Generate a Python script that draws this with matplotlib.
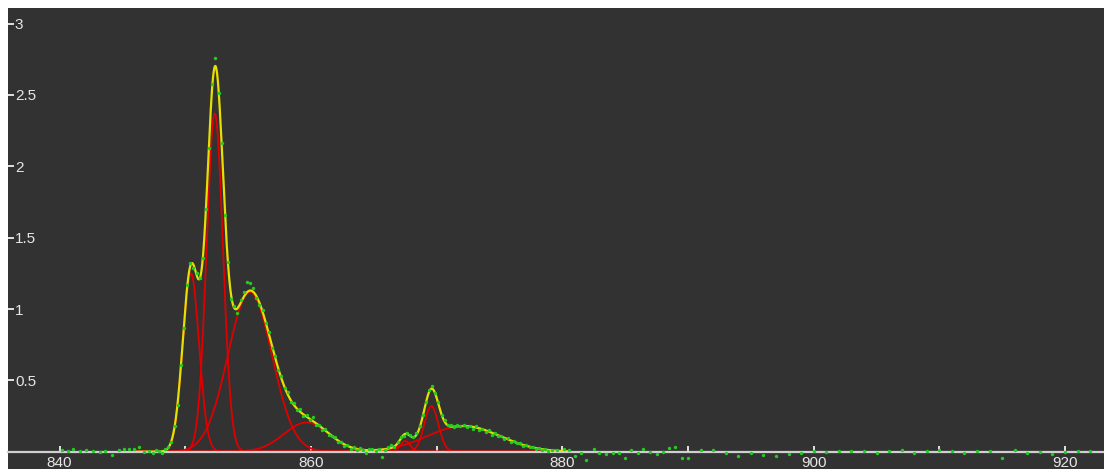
import numpy as np
import matplotlib.pyplot as plt

# fitted peak components (center nm, height, gaussian sigma nm)
peak_center = [850.45, 852.35, 855.15, 859.65, 867.50, 869.58, 872.15]
peak_height = [1.25, 2.37, 1.12, 0.205, 0.075, 0.32, 0.18]
peak_sigma = [0.65, 0.65, 1.75, 1.80, 0.40, 0.56, 2.90]
fit_range = (846.0, 880.5)

# measured spectrum points (green)
wl_left = [840.2, 840.7, 841.1, 841.6, 842.1, 842.7, 843.2, 843.6, 844.2, 844.7,
           845.1, 845.5, 845.9, 846.3, 846.7]
int_left = [0.012, 0.005, 0.018, 0.004, 0.010, 0.006, -0.004, 0.008, -0.020, 0.010,
            0.018, 0.020, 0.020, 0.030, -0.005]

wl_peak = [847.15, 847.40, 847.65, 847.90, 848.15, 848.40, 848.65, 848.90,
           849.15, 849.40, 849.65, 849.90, 850.15, 850.40, 850.65, 850.90,
           851.15, 851.40, 851.65, 851.90, 852.15, 852.40, 852.65, 852.90,
           853.15, 853.40, 853.65, 853.90, 854.15, 854.40, 854.65, 854.90,
           855.15, 855.40, 855.65, 855.90, 856.15, 856.40, 856.65, 856.90,
           857.15, 857.40, 857.65, 857.90, 858.15, 858.40, 858.65, 858.90,
           859.15, 859.40, 859.65, 859.90, 860.15, 860.40, 860.65, 860.90,
           861.15, 861.40, 861.65, 861.90, 862.15, 862.40, 862.65, 862.90,
           863.15, 863.40, 863.65, 863.90, 864.15, 864.40, 864.65, 864.90,
           865.15, 865.40, 865.65, 865.90, 866.15, 866.40, 866.65, 866.90,
           867.15, 867.40, 867.65, 867.90, 868.15, 868.40, 868.65, 868.90,
           869.15, 869.40, 869.65, 869.90, 870.15, 870.40, 870.65, 870.90,
           871.15, 871.40, 871.65, 871.90, 872.15, 872.40, 872.65, 872.90,
           873.15, 873.40, 873.65, 873.90, 874.15, 874.40, 874.65, 874.90,
           875.15, 875.40, 875.65, 875.90, 876.15, 876.40, 876.65, 876.90,
           877.15, 877.40, 877.65, 877.90, 878.15, 878.40, 878.65, 878.90,
           879.15]
int_peak = [0.005, -0.008, 0.012, 0.004, -0.006, 0.018, 0.035, 0.070,
            0.180, 0.330, 0.610, 0.870, 1.170, 1.320, 1.290, 1.250,
            1.220, 1.360, 1.700, 2.130, 2.580, 2.760, 2.510, 2.160,
            1.660, 1.330, 1.070, 1.020, 0.970, 1.060, 1.120, 1.190,
            1.180, 1.150, 1.080, 1.030, 0.990, 0.900, 0.840, 0.730,
            0.670, 0.570, 0.530, 0.450, 0.420, 0.350, 0.340, 0.290,
            0.300, 0.250, 0.260, 0.220, 0.240, 0.190, 0.190, 0.150,
            0.160, 0.120, 0.110, 0.100, 0.065, 0.070, 0.040, 0.050,
            0.020, 0.030, 0.012, 0.025, 0.015, -0.012, 0.020, 0.018,
            0.005, 0.020, -0.035, 0.010, 0.030, 0.050, 0.030, 0.070,
            0.100, 0.110, 0.130, 0.120, 0.100, 0.130, 0.180, 0.260,
            0.350, 0.430, 0.460, 0.410, 0.350, 0.260, 0.220, 0.190,
            0.190, 0.170, 0.190, 0.180, 0.190, 0.170, 0.180, 0.160,
            0.180, 0.150, 0.160, 0.140, 0.150, 0.120, 0.130, 0.110,
            0.110, 0.090, 0.095, 0.070, 0.075, 0.060, 0.060, 0.040,
            0.045, 0.030, 0.035, 0.020, 0.025, 0.012, 0.020, 0.005,
            0.012]

wl_right = [879.6, 880.1, 880.5, 881.0, 881.5, 881.9, 882.5, 882.9, 883.5, 884.0,
            884.5, 885.0, 885.5, 886.0, 886.4, 887.0, 887.5, 888.0, 888.5, 889.0,
            889.5, 890.0, 891.0, 892.0, 893.0, 894.0, 895.0, 896.0, 897.0, 898.0,
            899.0, 900.0, 901.0, 902.0, 903.0, 904.0, 905.0, 906.0, 907.0, 908.0,
            909.0, 910.0, 911.0, 912.0, 913.0, 914.0, 915.0, 916.0, 917.0, 918.0,
            919.0, 920.0, 921.0, 922.0]
int_right = [0.015, 0.017, 0.010, -0.030, -0.010, -0.058, 0.017, -0.010, -0.018, -0.010,
             -0.010, -0.042, 0.010, -0.007, 0.017, 0.000, -0.018, 0.000, 0.024, 0.031,
             -0.046, -0.042, 0.010, 0.010, -0.007, -0.028, -0.010, -0.020, -0.028, -0.018,
             -0.007, 0.004, 0.000, 0.005, 0.005, 0.008, -0.012, 0.004, 0.010, -0.006,
             0.006, 0.012, 0.003, -0.008, 0.006, 0.004, -0.046, 0.012, -0.010, -0.005,
             -0.018, -0.005, 0.006, 0.002]

wavelength = wl_left + wl_peak + wl_right
intensity = int_left + int_peak + int_right


def gauss(x, c, h, s):
    return h * np.exp(-(x - c) ** 2 / (2 * s * s))


fig = plt.figure(figsize=(11.04, 4.69), dpi=100, facecolor='white')
ax = fig.add_axes([8 / 1104, 0, 1096 / 1104, 461 / 469])
ax.set_facecolor('#323232')
ax.set_xlim(835.9, 923.1)
ax.set_ylim(-0.121, 3.109)

# fit curves only over the fitted window
grid = np.linspace(fit_range[0], fit_range[1], 2500)
comps = [gauss(grid, c, h, s) for c, h, s in zip(peak_center, peak_height, peak_sigma)]
for comp in comps:
    ax.plot(grid, comp, color='#e00000', lw=1.3, zorder=2)
ax.plot(grid, np.sum(comps, axis=0), color='#e6e000', lw=1.6, zorder=2.2)

ax.scatter(wavelength, intensity, s=6, marker='o', color='#22cc22', linewidths=0, zorder=3)

# axis styling: baseline at y=0, ticks inside
for side in ['top', 'right', 'left']:
    ax.spines[side].set_visible(False)
ax.spines['bottom'].set_position(('data', 0))
ax.spines['bottom'].set_color('#cfcfcf')
ax.spines['bottom'].set_linewidth(1.6)
ax.spines['bottom'].set_zorder(2.5)

ax.set_xticks([840, 860, 880, 900, 920])
ax.set_xticks([850, 870, 890, 910], minor=True)
ax.tick_params(axis='x', which='both', direction='in', length=4.3, width=1.2,
               color='white', labelcolor='#e6e6e6', labelsize=11, pad=3)

ax.set_yticks([0.5, 1, 1.5, 2, 2.5, 3])
ax.set_yticklabels(['0.5', '1', '1.5', '2', '2.5', '3'])
ax.tick_params(axis='y', direction='in', length=4.3, width=1.2, color='white',
               labelcolor='#e6e6e6', labelsize=11, pad=-5)
for lab in ax.get_yticklabels():
    lab.set_horizontalalignment('left')
    lab.set_fontfamily(['Liberation Sans', 'DejaVu Sans'])
for lab in ax.get_xticklabels():
    lab.set_fontfamily(['Liberation Sans', 'DejaVu Sans'])

fig.savefig('out.png', dpi=100, facecolor='white')
